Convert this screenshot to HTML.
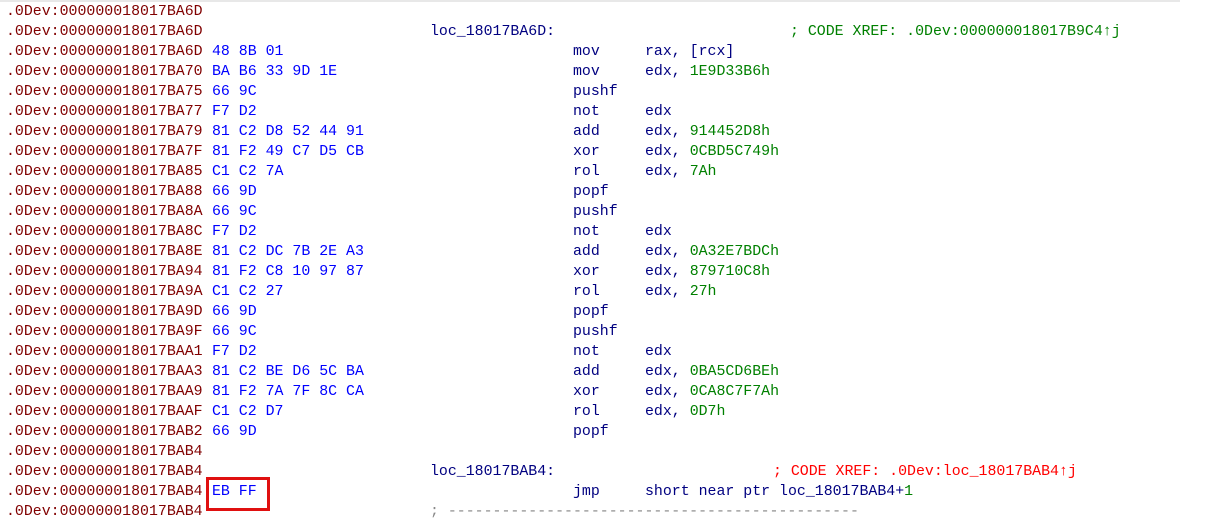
<!DOCTYPE html>
<html><head><style>
body{margin:0;width:1220px;height:513px;overflow:hidden;background:#fff;position:relative;font-family:"Liberation Mono",monospace;font-size:14.9px;}
.top{position:absolute;left:0;top:0;width:1180px;height:2px;background:#e8e8e8}
.r{position:absolute;left:0;height:20px;line-height:20px;width:1220px;white-space:pre}
.r span{position:absolute;top:0}
.a{left:6px;color:#800000}
.b{left:212px;color:#0000ff}
.l{left:430px;color:#000080}
.m{left:573px;color:#000080}
.o{left:645px;color:#000080}
.g{color:#008000;font-weight:normal}
.c{color:#008000}
.red{color:#ff0000}
.box{position:absolute;left:206px;top:477px;width:58px;height:28px;border:3px solid #e01010}
</style></head><body>
<div class="top"></div>
<div class="r" style="top:2px"><span class="a">.0Dev:000000018017BA6D</span></div>
<div class="r" style="top:22px"><span class="a">.0Dev:000000018017BA6D</span><span class="l">loc_18017BA6D:</span><span class="c" style="left:790px">; CODE XREF: .0Dev:000000018017B9C4↑j</span></div>
<div class="r" style="top:42px"><span class="a">.0Dev:000000018017BA6D</span><span class="b">48 8B 01</span><span class="m">mov</span><span class="o">rax, [rcx]</span></div>
<div class="r" style="top:62px"><span class="a">.0Dev:000000018017BA70</span><span class="b">BA B6 33 9D 1E</span><span class="m">mov</span><span class="o">edx, <b class="g">1E9D33B6h</b></span></div>
<div class="r" style="top:82px"><span class="a">.0Dev:000000018017BA75</span><span class="b">66 9C</span><span class="m">pushf</span></div>
<div class="r" style="top:102px"><span class="a">.0Dev:000000018017BA77</span><span class="b">F7 D2</span><span class="m">not</span><span class="o">edx</span></div>
<div class="r" style="top:122px"><span class="a">.0Dev:000000018017BA79</span><span class="b">81 C2 D8 52 44 91</span><span class="m">add</span><span class="o">edx, <b class="g">914452D8h</b></span></div>
<div class="r" style="top:142px"><span class="a">.0Dev:000000018017BA7F</span><span class="b">81 F2 49 C7 D5 CB</span><span class="m">xor</span><span class="o">edx, <b class="g">0CBD5C749h</b></span></div>
<div class="r" style="top:162px"><span class="a">.0Dev:000000018017BA85</span><span class="b">C1 C2 7A</span><span class="m">rol</span><span class="o">edx, <b class="g">7Ah</b></span></div>
<div class="r" style="top:182px"><span class="a">.0Dev:000000018017BA88</span><span class="b">66 9D</span><span class="m">popf</span></div>
<div class="r" style="top:202px"><span class="a">.0Dev:000000018017BA8A</span><span class="b">66 9C</span><span class="m">pushf</span></div>
<div class="r" style="top:222px"><span class="a">.0Dev:000000018017BA8C</span><span class="b">F7 D2</span><span class="m">not</span><span class="o">edx</span></div>
<div class="r" style="top:242px"><span class="a">.0Dev:000000018017BA8E</span><span class="b">81 C2 DC 7B 2E A3</span><span class="m">add</span><span class="o">edx, <b class="g">0A32E7BDCh</b></span></div>
<div class="r" style="top:262px"><span class="a">.0Dev:000000018017BA94</span><span class="b">81 F2 C8 10 97 87</span><span class="m">xor</span><span class="o">edx, <b class="g">879710C8h</b></span></div>
<div class="r" style="top:282px"><span class="a">.0Dev:000000018017BA9A</span><span class="b">C1 C2 27</span><span class="m">rol</span><span class="o">edx, <b class="g">27h</b></span></div>
<div class="r" style="top:302px"><span class="a">.0Dev:000000018017BA9D</span><span class="b">66 9D</span><span class="m">popf</span></div>
<div class="r" style="top:322px"><span class="a">.0Dev:000000018017BA9F</span><span class="b">66 9C</span><span class="m">pushf</span></div>
<div class="r" style="top:342px"><span class="a">.0Dev:000000018017BAA1</span><span class="b">F7 D2</span><span class="m">not</span><span class="o">edx</span></div>
<div class="r" style="top:362px"><span class="a">.0Dev:000000018017BAA3</span><span class="b">81 C2 BE D6 5C BA</span><span class="m">add</span><span class="o">edx, <b class="g">0BA5CD6BEh</b></span></div>
<div class="r" style="top:382px"><span class="a">.0Dev:000000018017BAA9</span><span class="b">81 F2 7A 7F 8C CA</span><span class="m">xor</span><span class="o">edx, <b class="g">0CA8C7F7Ah</b></span></div>
<div class="r" style="top:402px"><span class="a">.0Dev:000000018017BAAF</span><span class="b">C1 C2 D7</span><span class="m">rol</span><span class="o">edx, <b class="g">0D7h</b></span></div>
<div class="r" style="top:422px"><span class="a">.0Dev:000000018017BAB2</span><span class="b">66 9D</span><span class="m">popf</span></div>
<div class="r" style="top:442px"><span class="a">.0Dev:000000018017BAB4</span></div>
<div class="r" style="top:462px"><span class="a">.0Dev:000000018017BAB4</span><span class="l">loc_18017BAB4:</span><span class="red" style="left:773px">; CODE XREF: .0Dev:loc_18017BAB4↑j</span></div>
<div class="r" style="top:482px"><span class="a">.0Dev:000000018017BAB4</span><span class="b">EB FF</span><span class="m">jmp</span><span class="o">short near ptr loc_18017BAB4+<b class="g">1</b></span></div>
<div class="r" style="top:502px"><span class="a">.0Dev:000000018017BAB4</span><span style="left:430px;color:#888">; ----------------------------------------------</span></div>
<div class="box"></div>
</body></html>
